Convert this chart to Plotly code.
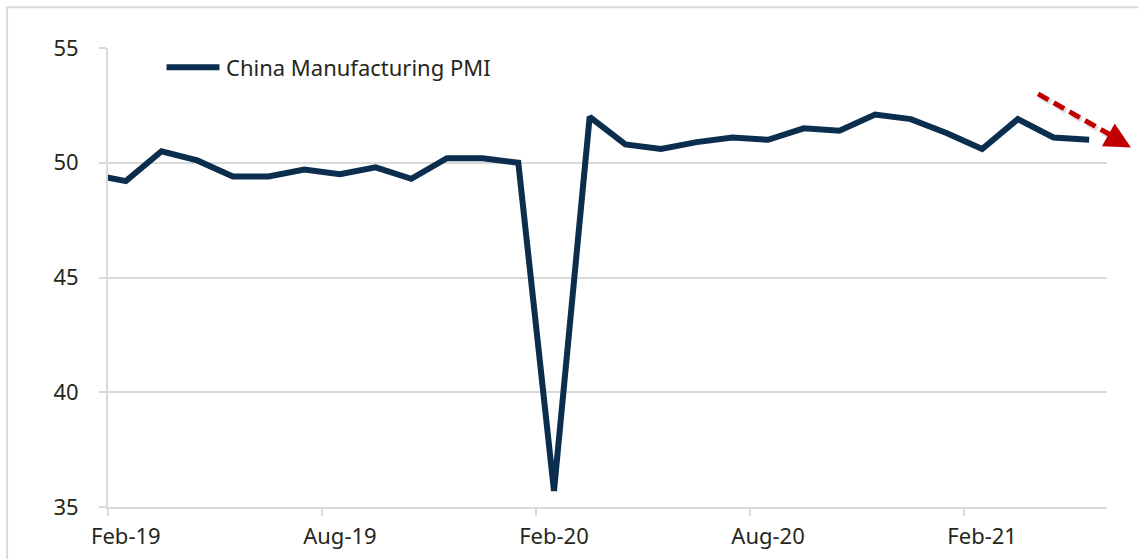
import plotly.graph_objects as go

# China official manufacturing PMI, monthly, Jan-19 .. May-21
months = ["Jan-19", "Feb-19", "Mar-19", "Apr-19", "May-19", "Jun-19", "Jul-19", "Aug-19",
          "Sep-19", "Oct-19", "Nov-19", "Dec-19", "Jan-20", "Feb-20", "Mar-20", "Apr-20",
          "May-20", "Jun-20", "Jul-20", "Aug-20", "Sep-20", "Oct-20", "Nov-20", "Dec-20",
          "Jan-21", "Feb-21", "Mar-21", "Apr-21", "May-21"]
pmi = [49.5, 49.2, 50.5, 50.1, 49.4, 49.4, 49.7, 49.5, 49.8, 49.3, 50.2, 50.2, 50.0,
       35.7, 52.0, 50.8, 50.6, 50.9, 51.1, 51.0, 51.5, 51.4, 52.1, 51.9, 51.3, 50.6,
       51.9, 51.1, 51.0]
label_months = ["Feb-19", "Aug-19", "Feb-20", "Aug-20", "Feb-21"]
y_ticks = [35, 40, 45, 50, 55]
series_name = "China Manufacturing PMI"

NAVY = "#0b2d4e"
GRID = "#d9d9d9"
TEXT = "#26261a"
ARROW = "#c00000"
FONT = "Noto Sans"

x = list(range(len(months)))
label_pos = [months.index(m) for m in label_months]
boundary_pos = [p - 0.5 for p in label_pos]
x_range = [0.5, len(months) - 0.5]

fig = go.Figure()
fig.add_trace(go.Scatter(
    x=x, y=pmi, mode="lines", name=series_name,
    line=dict(color=NAVY, width=6), showlegend=False, cliponaxis=True,
))
# carrier trace so the label axis is rendered
fig.add_trace(go.Scatter(x=label_pos, y=[None] * len(label_pos), xaxis="x2",
                         mode="lines", showlegend=False, hoverinfo="skip"))

fig.update_layout(
    width=1138, height=559,
    margin=dict(l=108, r=31, t=48, b=52),
    paper_bgcolor="white", plot_bgcolor="white",
    font=dict(family=FONT, size=22, color=TEXT),
    xaxis=dict(
        range=x_range, tickmode="array", tickvals=boundary_pos, automargin=False,
        showticklabels=False, ticks="outside", ticklen=7, tickwidth=2, tickcolor=GRID,
        showgrid=False, zeroline=False, showline=True, linecolor=GRID, linewidth=2,
    ),
    xaxis2=dict(
        range=x_range, overlaying="x", anchor="y", side="bottom", automargin=False,
        tickmode="array", tickvals=label_pos, ticktext=label_months,
        ticks="", showgrid=False, zeroline=False, showline=False,
        tickfont=dict(family=FONT, size=22, color=TEXT), ticklabelstandoff=14,
    ),
    yaxis=dict(
        range=[35, 55], tickmode="array", tickvals=y_ticks, automargin=False,
        ticks="outside", ticklen=7, tickwidth=2, tickcolor=GRID,
        showgrid=True, gridcolor=GRID, gridwidth=2, zeroline=False,
        showline=True, linecolor=GRID, linewidth=2,
        tickfont=dict(family=FONT, size=22, color=TEXT), ticklabelstandoff=16,
    ),
)

# outer frame
fig.add_shape(type="rect", xref="paper", yref="paper",
              x0=-0.101, x1=1.2, y0=-0.3, y1=1.089,
              line=dict(color=GRID, width=2), fillcolor="rgba(0,0,0,0)", layer="below")

# legend key
fig.add_shape(type="line", xref="paper", yref="paper",
              x0=0.0586, x1=0.1116, y0=0.958, y1=0.958,
              line=dict(color=NAVY, width=6))
fig.add_annotation(text=series_name, xref="paper", yref="paper",
                   x=0.1166, y=0.958, xanchor="left", yanchor="middle",
                   showarrow=False, font=dict(family=FONT, size=22, color=TEXT))

# downward trend arrow: soft shadow, dashed stem, head
fig.add_shape(type="line", xref="paper", yref="paper",
              x0=0.933, y0=0.895, x1=1.006, y1=0.804,
              line=dict(color="rgba(120,120,120,0.22)", width=6, dash="12px,6px"))
fig.add_shape(type="line", xref="paper", yref="paper",
              x0=0.931, y0=0.900, x1=1.004, y1=0.810,
              line=dict(color=ARROW, width=5, dash="12px,6px"))
fig.add_annotation(xref="paper", yref="paper", x=1.024, y=0.783,
                   ax=-16, ay=-9, showarrow=True, arrowhead=2, arrowsize=1.3,
                   arrowwidth=4, arrowcolor=ARROW, text="")

fig.write_html("out.html")
